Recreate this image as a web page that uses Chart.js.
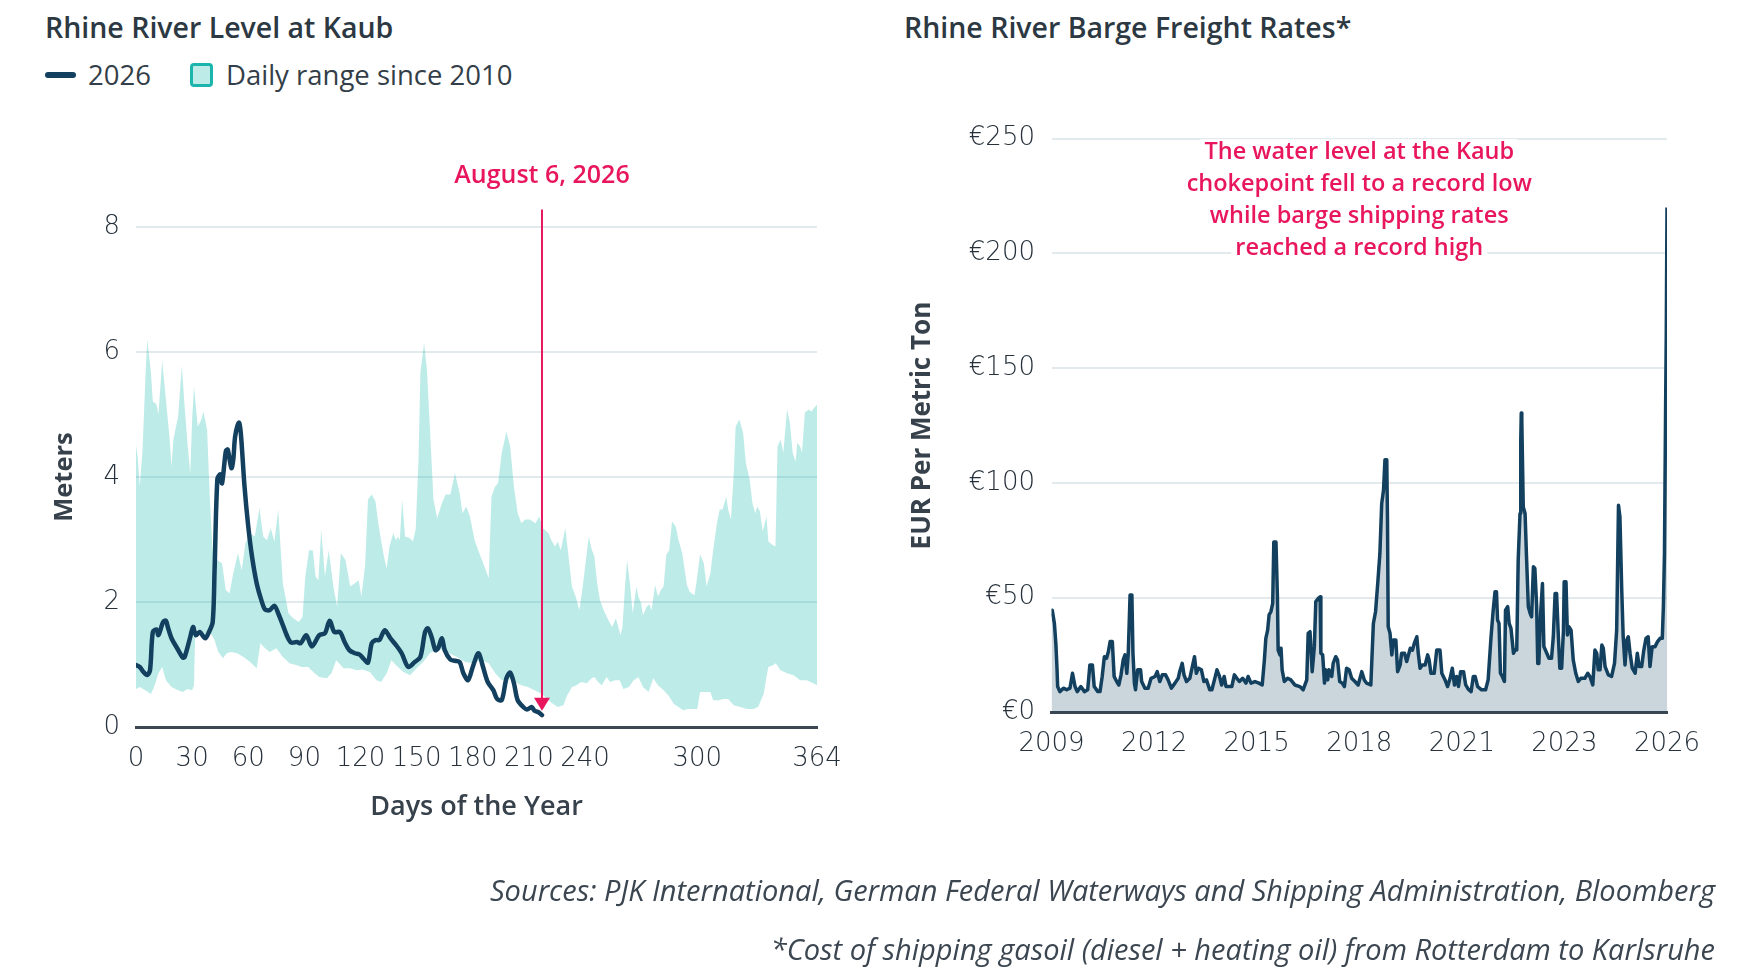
<!DOCTYPE html>
<html>
<head>
<meta charset="utf-8">
<script src="https://cdn.jsdelivr.net/npm/chart.js@4.4.1/dist/chart.umd.min.js"></script>
<style>
html, body { margin: 0; padding: 0; background: #fff; }
body { width: 1754px; height: 978px; position: relative; overflow: hidden; font-family: "Open Sans", sans-serif; color: #2c3842; }
.title { position: absolute; top: 10px; font-size: 28.5px; line-height: 34px; font-weight: 600; color: #2c3842; white-space: nowrap; }
.legend-line { position: absolute; left: 45px; top: 72px; width: 31px; height: 6px; border-radius: 3px; background: #12405e; }
.legend-box { position: absolute; left: 190px; top: 63px; width: 17px; height: 18px; border: 3px solid #1bb5ae; border-radius: 4px; background: #bdebe8; }
.legend-text { position: absolute; top: 59px; font-size: 27.5px; line-height: 32px; color: #333e48; white-space: nowrap; }
.note { position: absolute; right: 39px; font-size: 29px; line-height: 32px; font-style: italic; color: #3b4651; white-space: nowrap; }
canvas { position: absolute; top: 0; }
</style>
</head>
<body>
<div class="title" style="left:45px">Rhine River Level at Kaub</div>
<div class="title" style="left:904px">Rhine River Barge Freight Rates*</div>
<div class="legend-line"></div>
<div class="legend-text" style="left:88px">2026</div>
<div class="legend-box"></div>
<div class="legend-text" style="left:226px">Daily range since 2010</div>
<canvas id="levelChart" width="877" height="978" style="left:0"></canvas>
<canvas id="freightChart" width="877" height="978" style="left:877px"></canvas>
<div class="note" style="top:874px">Sources: PJK International, German Federal Waterways and Shipping Administration, Bloomberg</div>
<div class="note" style="top:933px">*Cost of shipping gasoil (diesel + heating oil) from Rotterdam to Karlsruhe</div>
<script>
// Kaub water level, 2026 (metres by day of year)
var levelDays = [0, 2, 4, 6, 7.5, 9, 11, 12, 14.5, 16, 17, 19, 22, 25, 26, 29, 30.5, 32, 34, 37,
  39, 41, 42, 43.5, 45, 46, 48, 49, 51, 52, 53, 55, 56, 58, 60, 62, 64.5, 67, 69, 71.5,
  74, 76, 78.5, 81, 83, 86, 88, 91, 94, 98, 101, 103.5, 106, 109, 111.5, 114, 117, 119.5, 122, 124,
  126, 128, 130, 131, 133, 136, 139, 142, 145.5, 149, 152, 154.5, 156, 158, 160, 161.5, 163.5, 165, 168, 170.5,
  173, 175, 177.5, 180, 183, 185.5, 188, 191, 193, 195.5, 198, 200, 202, 204, 207, 209, 211.5, 213, 215, 217];
var levelValues = [0.99, 0.96, 0.88, 0.83, 0.91, 1.52, 1.56, 1.47, 1.68, 1.70, 1.60, 1.42, 1.26, 1.11, 1.12, 1.44, 1.60, 1.47, 1.52, 1.42,
  1.52, 1.68, 2.51, 3.97, 4.04, 3.90, 4.41, 4.44, 4.14, 4.28, 4.65, 4.87, 4.71, 3.85, 3.21, 2.73, 2.30, 2.03, 1.88, 1.87,
  1.94, 1.82, 1.63, 1.44, 1.35, 1.36, 1.34, 1.47, 1.29, 1.47, 1.50, 1.70, 1.52, 1.52, 1.36, 1.23, 1.18, 1.16, 1.08, 1.03,
  1.34, 1.39, 1.39, 1.44, 1.55, 1.42, 1.31, 1.18, 0.96, 1.04, 1.12, 1.52, 1.58, 1.44, 1.23, 1.26, 1.42, 1.23, 1.08, 1.06,
  1.04, 0.86, 0.75, 0.96, 1.18, 0.96, 0.72, 0.59, 0.45, 0.43, 0.78, 0.87, 0.70, 0.43, 0.32, 0.28, 0.32, 0.26, 0.24, 0.19];

// daily range since 2010: upper edge
var rangeMaxDays = [0, 1, 2, 3.5, 5, 6, 8, 9, 11, 12, 14, 16, 18, 19, 20, 22.5, 24.5, 26, 27.5, 29,
  30, 31, 33, 35, 36, 38, 39.5, 41, 43.5, 46, 48, 50, 52, 54.5, 56.5, 58.5, 61, 63.5, 66, 68,
  70, 72, 74, 76, 78.5, 81.5, 84, 87, 89, 90.5, 92.5, 94.5, 96, 97.5, 99, 101, 103, 105.5, 107.5, 109.5,
  112, 114.5, 117, 119, 120.5, 122.5, 124, 126, 128, 129.5, 131, 132.5, 134, 135.5, 137.5, 139, 140, 141, 142.3, 143.8,
  146.5, 148, 149.5, 151, 152, 154, 155.5, 157.5, 159, 161, 163.5, 165.5, 168, 170.5, 173, 174.5, 176.5, 178.5, 181, 183.5,
  186, 188.5, 190, 192, 193.5, 195.5, 198, 200, 202, 204, 206, 208, 210.5, 213.5, 215.5, 217.5, 220.5, 222, 224, 225.5,
  227, 229.5, 231, 233, 235, 237, 239, 242, 243.5, 245, 246.5, 248, 250, 252.5, 254.5, 256.5, 259, 260, 261.5, 262.5,
  264, 265.5, 267.5, 268.5, 270, 271, 273, 274.5, 275.5, 277.5, 279, 280.5, 282, 283.5, 285, 286.5, 288.5, 290, 292, 294.5,
  296, 298.5, 299.5, 301.5, 303.5, 305, 307, 308.5, 310.5, 312, 313.5, 315.5, 316.5, 318, 319.5, 320.5, 322.5, 324.5, 326, 328,
  329.5, 331, 332, 333.5, 335, 337, 338, 340.5, 341.8, 342.9, 344.6, 346, 348, 349.5, 351, 352.5, 353.5, 355, 356, 357.5,
  359.5, 361, 362.5, 364];
var rangeMax = [4.52, 4.28, 3.85, 4.44, 5.56, 6.20, 5.67, 5.21, 5.16, 5.00, 5.86, 5.24, 4.60, 4.17, 4.60, 4.97, 5.78, 5.13, 4.55, 4.06,
  4.92, 5.45, 4.81, 4.92, 5.05, 4.76, 3.64, 2.78, 2.67, 2.62, 2.19, 2.14, 2.46, 2.78, 2.51, 2.94, 3.10, 3.05, 3.50, 3.05,
  2.99, 3.18, 2.97, 3.48, 2.30, 1.82, 1.74, 1.68, 1.76, 2.41, 2.83, 2.83, 2.41, 2.35, 3.16, 2.41, 2.83, 2.25, 1.93, 2.78,
  2.67, 2.25, 2.30, 2.35, 2.09, 2.60, 3.64, 3.72, 3.61, 3.26, 2.99, 2.73, 2.54, 2.89, 3.10, 2.99, 3.05, 2.99, 3.64, 3.05,
  3.02, 2.97, 3.16, 4.28, 5.67, 6.15, 5.72, 4.55, 3.64, 3.34, 3.58, 3.72, 3.72, 4.06, 3.74, 3.42, 3.53, 3.37, 2.99, 2.78,
  2.59, 2.38, 3.69, 3.85, 3.90, 4.39, 4.73, 4.49, 3.85, 3.42, 3.26, 3.32, 3.32, 3.26, 3.37, 3.18, 3.10, 2.99, 2.89, 2.97,
  2.83, 3.18, 2.78, 2.25, 2.09, 1.87, 2.30, 3.05, 2.85, 2.73, 2.30, 2.03, 1.87, 1.71, 1.60, 1.74, 1.47, 1.60, 2.30, 2.67,
  2.30, 1.82, 2.25, 2.09, 1.98, 1.79, 1.93, 1.96, 1.87, 2.27, 2.09, 2.19, 2.25, 2.76, 2.83, 3.29, 3.21, 2.99, 2.78, 2.27,
  2.16, 2.11, 2.30, 2.76, 2.62, 2.25, 2.46, 2.83, 3.26, 3.48, 3.48, 3.69, 3.48, 3.32, 4.06, 4.81, 4.92, 4.71, 4.22, 3.96,
  3.58, 3.42, 3.53, 3.45, 3.13, 3.37, 2.97, 2.91, 2.89, 4.49, 4.60, 4.39, 5.08, 4.87, 4.39, 4.25, 4.55, 4.49, 4.39, 5.03,
  5.08, 5.05, 5.11, 5.16];

// daily range since 2010: lower edge
var rangeMinDays = [0, 2, 5, 8, 10, 12, 14, 16, 19, 22.5, 25, 27.5, 30, 31, 31.7, 34, 37, 40, 42, 44,
  46.5, 48.5, 51, 54, 57.5, 61, 64.5, 66.5, 69, 71.5, 75, 78.5, 82, 86, 88.5, 92, 95.5, 98, 102, 104.5,
  107, 111, 114.5, 118, 121, 125, 128.5, 131, 134, 136.5, 139, 143, 146.5, 150, 153.5, 157, 161.5, 166, 171.5, 176,
  180, 184.5, 188.5, 192, 195.5, 199, 202.5, 206, 209.5, 213, 217, 220.5, 223, 225.5, 228.5, 230, 233, 235.5, 238, 241,
  243.5, 245, 247, 249, 251.5, 253.5, 256, 258.5, 260.5, 263.5, 266, 268.5, 271, 274, 276.5, 279, 282, 284.5, 287.5, 290,
  292.5, 295, 298, 300, 301.5, 304, 307, 308.5, 311.5, 314, 316.5, 319.5, 323, 326.5, 330, 332.5, 335.5, 337, 338, 340.5,
  342, 344.5, 348, 351.5, 355, 358.5, 362, 364];
var rangeMin = [0.61, 0.64, 0.59, 0.53, 0.67, 0.86, 0.96, 0.75, 0.64, 0.59, 0.56, 0.61, 0.59, 0.67, 1.60, 1.50, 1.47, 1.50, 1.39, 1.20,
  1.10, 1.18, 1.20, 1.18, 1.12, 1.04, 0.94, 1.34, 1.26, 1.20, 1.26, 1.12, 1.02, 0.99, 0.96, 0.96, 0.86, 0.80, 0.78, 0.86,
  1.07, 0.94, 0.94, 0.91, 0.92, 0.88, 0.75, 0.72, 0.86, 1.07, 0.99, 0.88, 0.83, 0.94, 1.04, 1.18, 1.26, 1.20, 1.12, 1.04,
  1.02, 1.07, 1.02, 0.86, 0.75, 0.78, 0.72, 0.67, 0.64, 0.59, 0.53, 0.43, 0.37, 0.32, 0.35, 0.48, 0.64, 0.67, 0.72, 0.70,
  0.78, 0.80, 0.72, 0.67, 0.80, 0.72, 0.75, 0.75, 0.61, 0.64, 0.75, 0.80, 0.64, 0.56, 0.78, 0.67, 0.59, 0.51, 0.37, 0.32,
  0.27, 0.29, 0.29, 0.29, 0.56, 0.56, 0.56, 0.43, 0.43, 0.45, 0.45, 0.35, 0.32, 0.29, 0.29, 0.32, 0.53, 0.80, 0.96, 0.99,
  1.02, 0.91, 0.86, 0.83, 0.75, 0.75, 0.70, 0.67];

var dayTicks = [0, 30, 60, 90, 120, 150, 180, 210, 240, 300, 364];
var meterTicks = [0, 2, 4, 6, 8];
var markerDay = 217;
var markerText = 'August 6, 2026';

// barge freight rate, EUR per metric ton (decimal year, value)
var freightYears = [2009.00, 2009.02, 2009.08, 2009.12, 2009.15, 2009.17, 2009.23, 2009.33, 2009.42, 2009.51,
  2009.58, 2009.65, 2009.71, 2009.81, 2009.91, 2010.00, 2010.06, 2010.13, 2010.18, 2010.28,
  2010.34, 2010.40, 2010.46, 2010.52, 2010.57, 2010.62, 2010.68, 2010.73, 2010.80, 2010.86,
  2010.92, 2010.98, 2011.03, 2011.08, 2011.12, 2011.17, 2011.22, 2011.25, 2011.29, 2011.32,
  2011.38, 2011.46, 2011.49, 2011.58, 2011.67, 2011.75, 2011.86, 2011.92, 2011.99, 2012.06,
  2012.15, 2012.22, 2012.31, 2012.41, 2012.50, 2012.54, 2012.61, 2012.66, 2012.73, 2012.82,
  2012.86, 2012.95, 2013.00, 2013.06, 2013.14, 2013.21, 2013.28, 2013.37, 2013.43, 2013.50,
  2013.57, 2013.64, 2013.70, 2013.77, 2013.82, 2013.91, 2013.98, 2014.05, 2014.12, 2014.19,
  2014.28, 2014.37, 2014.43, 2014.51, 2014.62, 2014.73, 2014.82, 2014.88, 2014.92, 2014.97,
  2015.01, 2015.06, 2015.11, 2015.14, 2015.20, 2015.24, 2015.26, 2015.31, 2015.34, 2015.37,
  2015.43, 2015.52, 2015.61, 2015.72, 2015.86, 2015.95, 2016.05, 2016.09, 2016.14, 2016.20,
  2016.26, 2016.30, 2016.37, 2016.42, 2016.44, 2016.49, 2016.54, 2016.57, 2016.63, 2016.66,
  2016.74, 2016.78, 2016.85, 2016.90, 2016.96, 2017.03, 2017.09, 2017.15, 2017.22, 2017.29,
  2017.38, 2017.47, 2017.57, 2017.64, 2017.70, 2017.82, 2017.89, 2017.95, 2018.01, 2018.07,
  2018.12, 2018.17, 2018.21, 2018.26, 2018.28, 2018.30, 2018.35, 2018.40, 2018.44, 2018.51,
  2018.56, 2018.63, 2018.67, 2018.75, 2018.81, 2018.86, 2018.91, 2018.97, 2019.02, 2019.09,
  2019.13, 2019.18, 2019.24, 2019.32, 2019.39, 2019.43, 2019.48, 2019.57, 2019.64, 2019.73,
  2019.78, 2019.87, 2019.94, 2020.01, 2020.07, 2020.13, 2020.19, 2020.24, 2020.30, 2020.38,
  2020.44, 2020.51, 2020.59, 2020.65, 2020.70, 2020.77, 2020.88, 2020.99, 2021.06, 2021.14,
  2021.20, 2021.25, 2021.29, 2021.32, 2021.36, 2021.40, 2021.45, 2021.51, 2021.54, 2021.60,
  2021.64, 2021.69, 2021.76, 2021.80, 2021.85, 2021.89, 2021.94, 2021.96, 2021.975, 2021.99,
  2022.03, 2022.08, 2022.12, 2022.17, 2022.22, 2022.26, 2022.31, 2022.35, 2022.40, 2022.43,
  2022.46, 2022.51, 2022.56, 2022.60, 2022.68, 2022.74, 2022.81, 2022.86, 2022.91, 2022.95,
  2023.00, 2023.04, 2023.09, 2023.14, 2023.16, 2023.21, 2023.25, 2023.29, 2023.35, 2023.41,
  2023.48, 2023.55, 2023.62, 2023.73, 2023.81, 2023.87, 2023.95, 2024.01, 2024.06, 2024.10,
  2024.15, 2024.20, 2024.24, 2024.29, 2024.38, 2024.47, 2024.55, 2024.61, 2024.66, 2024.70,
  2024.75, 2024.79, 2024.84, 2024.89, 2024.93, 2024.98, 2025.04, 2025.12, 2025.18, 2025.23,
  2025.30, 2025.36, 2025.42, 2025.48, 2025.53, 2025.59, 2025.67, 2025.74, 2025.81, 2025.87,
  2025.90, 2025.93, 2025.96, 2025.98, 2026.00];
var freightRates = [41.7, 44.6, 38.8, 30.1, 20.0, 11.3, 9.1, 10.6, 9.9, 10.6,
  17.1, 11.3, 9.1, 11.3, 9.1, 9.9, 20.7, 20.7, 11.3, 9.1,
  9.1, 15.7, 24.3, 23.6, 26.5, 30.9, 30.9, 15.7, 13.5, 12.0,
  16.4, 22.9, 25.1, 17.1, 25.8, 51.2, 51.2, 25.8, 12.8, 9.9,
  18.6, 18.6, 13.5, 10.6, 10.6, 14.9, 15.7, 17.8, 13.5, 16.4,
  16.4, 14.2, 10.6, 12.8, 14.9, 17.8, 21.4, 16.4, 13.5, 14.9,
  17.8, 24.3, 17.1, 19.3, 18.6, 13.5, 14.2, 9.9, 9.9, 14.2,
  18.6, 15.7, 12.0, 15.7, 11.3, 11.3, 11.3, 16.4, 14.9, 13.5,
  14.9, 12.8, 15.7, 12.8, 13.5, 12.8, 12.0, 22.9, 32.3, 35.9,
  42.5, 43.9, 47.5, 74.3, 74.3, 50.4, 27.2, 25.1, 28.0, 18.6,
  13.5, 14.9, 14.2, 12.0, 11.3, 9.9, 14.2, 34.5, 35.2, 17.8,
  28.7, 48.3, 49.7, 50.4, 25.8, 25.1, 12.8, 18.6, 14.2, 18.6,
  15.7, 21.4, 24.3, 22.9, 13.5, 12.8, 11.3, 19.3, 18.6, 14.9,
  13.5, 12.0, 17.8, 14.2, 12.8, 12.0, 38.8, 43.9, 56.2, 69.3,
  91.0, 96.8, 110.1, 110.1, 83.8, 37.4, 34.5, 25.1, 31.6, 31.6,
  17.8, 20.7, 25.8, 25.8, 22.2, 25.1, 28.0, 27.2, 30.1, 33.0,
  25.8, 19.3, 20.7, 20.7, 25.1, 22.9, 17.1, 17.1, 27.2, 27.2,
  17.1, 14.2, 11.3, 14.9, 19.3, 12.0, 15.7, 11.3, 17.8, 17.8,
  12.0, 10.2, 9.1, 15.7, 15.7, 11.3, 9.9, 9.9, 14.2, 33.0,
  44.6, 52.6, 52.6, 40.3, 38.8, 17.1, 15.7, 13.5, 44.6, 46.1,
  38.8, 36.7, 25.8, 27.2, 27.2, 66.4, 86.7, 118.0, 130.5, 127.0,
  89.6, 86.7, 67.8, 46.1, 43.2, 41.7, 63.5, 62.8, 46.1, 21.4,
  21.4, 43.2, 56.2, 28.7, 25.8, 23.6, 23.6, 33.0, 51.9, 51.9,
  33.0, 19.3, 19.3, 35.9, 57.0, 57.0, 33.8, 37.4, 35.9, 22.9,
  17.1, 13.5, 14.9, 14.9, 17.1, 15.7, 12.0, 27.2, 25.8, 18.6,
  18.6, 29.4, 28.0, 20.0, 16.4, 15.7, 21.4, 35.9, 90.3, 85.2,
  53.3, 33.0, 20.7, 31.6, 33.0, 25.8, 19.3, 17.1, 25.8, 20.0,
  20.0, 27.2, 32.3, 33.0, 20.0, 28.7, 28.7, 30.9, 32.3, 32.3,
  46.1, 69.3, 130.0, 165.0, 220.0];

var euroTicks = [0, 50, 100, 150, 200, 250];
var yearLabels = ['2009', '2012', '2015', '2018', '2021', '2023', '2026'];
var yearStart = 2009, yearEnd = 2026;
var noteLines = ['The water level at the Kaub', 'chokepoint fell to a record low', 'while barge shipping rates', 'reached a record high'];

var navy = '#12405e';
var accent = '#e8175d';
var textColor = '#36414b';
var tickColor = '#26313b';
var gridColor = '#e3eaee';
var axisColor = '#3b4853';
var fontName = 'Open Sans';
var tickFont = { family: 'DejaVu Sans', size: 26, weight: '300' };

function toPoints(xs, ys) {
	return xs.map(function(x, i) { return {x: x, y: ys[i]}; });
}

function gridFn(ctx) {
	return ctx.tick && ctx.tick.value === 0 ? 'rgba(0,0,0,0)' : gridColor;
}

// outline of the range band: upper edge left to right, lower edge back
var bandPoints = toPoints(rangeMaxDays, rangeMax).concat(toPoints(rangeMinDays, rangeMin).reverse());

var markerPlugin = {
	id: 'marker',
	afterDatasetsDraw: function(chart) {
		var ctx = chart.ctx;
		var x = chart.scales.x.getPixelForValue(markerDay);
		var y = chart.scales.y;
		var top = y.getPixelForValue(8.28);
		var tip = y.getPixelForValue(0.26);
		ctx.save();
		ctx.strokeStyle = accent;
		ctx.lineWidth = 2;
		ctx.beginPath();
		ctx.moveTo(x, top);
		ctx.lineTo(x, tip - 10);
		ctx.stroke();
		ctx.fillStyle = accent;
		ctx.beginPath();
		ctx.moveTo(x - 8, tip - 13);
		ctx.lineTo(x + 8, tip - 13);
		ctx.lineTo(x, tip);
		ctx.closePath();
		ctx.fill();
		ctx.font = '600 25px "' + fontName + '"';
		ctx.textAlign = 'center';
		ctx.textBaseline = 'middle';
		ctx.fillText(markerText, x, y.getPixelForValue(8.82));
		ctx.restore();
	}
};

var notePlugin = {
	id: 'note',
	afterDraw: function(chart) {
		var ctx = chart.ctx;
		var area = chart.chartArea;
		var cx = (area.left + area.right) / 2;
		ctx.save();
		ctx.font = '600 23.5px "' + fontName + '"';
		ctx.textAlign = 'center';
		ctx.textBaseline = 'middle';
		for (var i = 0; i < noteLines.length; i++) {
			var cy = area.top + 13.5 + i * 32.2;
			var w = ctx.measureText(noteLines[i]).width;
			ctx.fillStyle = '#fff';
			ctx.fillRect(cx - w / 2 - 4, cy - 13, w + 8, 26);
			ctx.fillStyle = accent;
			ctx.fillText(noteLines[i], cx, cy);
		}
		ctx.restore();
	}
};

new Chart(document.getElementById('levelChart'), {
	type: 'line',
	data: {
		datasets: [{
			label: '2026',
			data: toPoints(levelDays, levelValues),
			borderColor: navy,
			borderWidth: 4.5,
			borderCapStyle: 'round',
			borderJoinStyle: 'round',
			pointRadius: 0,
			tension: 0.3,
			fill: false,
			order: 0
		}, {
			label: 'Daily range since 2010',
			data: bandPoints,
			borderWidth: 0,
			borderColor: 'rgba(0,0,0,0)',
			backgroundColor: 'rgba(11,181,170,0.27)',
			pointRadius: 0,
			tension: 0,
			fill: 'shape',
			order: 1
		}]
	},
	options: {
		responsive: false,
		animation: false,
		events: [],
		layout: { padding: { left: 0, right: 60, top: 227, bottom: 140 }, autoPadding: false },
		plugins: { legend: { display: false }, tooltip: { enabled: false } },
		scales: {
			x: {
				type: 'linear', min: 0, max: 364, z: 1,
				afterBuildTicks: function(s) { s.ticks = dayTicks.map(function(v) { return {value: v}; }); },
				afterFit: function(s) { s.height = 111; },
				grid: { display: false, drawTicks: false },
				border: { display: true, color: axisColor, width: 3 },
				ticks: { padding: 17, autoSkip: false, maxRotation: 0, color: tickColor, font: tickFont },
				title: { display: true, text: 'Days of the Year', color: textColor, font: { family: fontName, size: 27, weight: '600' }, padding: { bottom: 14 } }
			},
			y: {
				min: 0, max: 8,
				afterBuildTicks: function(s) { s.ticks = meterTicks.map(function(v) { return {value: v}; }); },
				afterFit: function(s) { s.width = 136; },
				grid: { color: gridFn, lineWidth: 2, drawTicks: false },
				border: { display: false },
				ticks: { padding: 16, color: tickColor, font: tickFont },
				title: { display: true, text: 'Meters', color: textColor, font: { family: fontName, size: 25.5, weight: '700' }, padding: { top: 49 } }
			}
		}
	},
	plugins: [markerPlugin]
});

var yearStep = (yearEnd - yearStart) / (yearLabels.length - 1);

new Chart(document.getElementById('freightChart'), {
	type: 'line',
	data: {
		datasets: [{
			label: 'Freight rate',
			data: toPoints(freightYears, freightRates),
			borderColor: navy,
			borderWidth: 3.5,
			borderJoinStyle: 'round',
			backgroundColor: 'rgba(18,63,95,0.22)',
			pointRadius: 0,
			tension: 0,
			fill: 'origin'
		}]
	},
	options: {
		responsive: false,
		animation: false,
		events: [],
		layout: { padding: { left: 0, right: 87, top: 138.7, bottom: 205.5 }, autoPadding: false },
		plugins: { legend: { display: false }, tooltip: { enabled: false } },
		scales: {
			x: {
				type: 'linear', min: yearStart, max: yearEnd, z: 1,
				afterBuildTicks: function(s) { s.ticks = yearLabels.map(function(l, i) { return {value: yearStart + i * yearStep}; }); },
				afterFit: function(s) { s.height = 60; },
				grid: { display: false, drawTicks: false },
				border: { display: true, color: axisColor, width: 3 },
				ticks: {
					padding: 16, autoSkip: false, maxRotation: 0, color: tickColor, font: tickFont,
					callback: function(v, i) { return yearLabels[i]; }
				}
			},
			y: {
				min: 0, max: 250,
				afterBuildTicks: function(s) { s.ticks = euroTicks.map(function(v) { return {value: v}; }); },
				afterFit: function(s) { s.width = 174.5; },
				grid: { color: gridFn, lineWidth: 2, drawTicks: false },
				border: { display: false },
				ticks: { padding: 16.5, color: tickColor, font: tickFont, callback: function(v) { return '€' + v; } },
				title: { display: true, text: 'EUR Per Metric Ton', color: textColor, font: { family: fontName, size: 26, weight: '700' }, padding: { top: 30 } }
			}
		}
	},
	plugins: [notePlugin]
});
</script>
</body>
</html>
